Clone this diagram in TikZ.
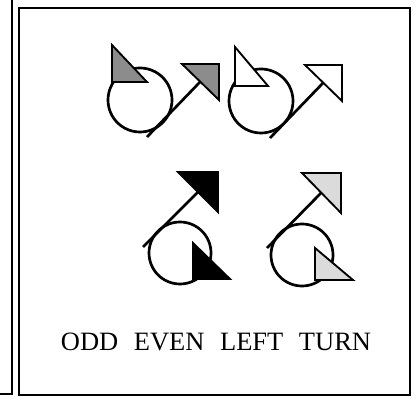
\documentclass[tikz,border=0pt]{standalone}
\usepackage{fontspec}
\setmainfont{Liberation Serif}
\colorlet{midgrey}{black!45}
\colorlet{palegrey}{black!14}
\tikzset{
  ringline/.style={line width=2.3pt},
  tiptri/.style={line width=1.6pt, line join=miter},
  frameline/.style={line width=2pt}
}
\begin{document}
\begin{tikzpicture}[x=0.03cm,y=-0.03cm]
\useasboundingbox (0,0) rectangle (420,399);
% frames
\draw[frameline] (12,0) -- (12,394) -- (0,394);
\draw[frameline] (19,8) rectangle (410,395);
% odd
\draw[ringline] (140,100) circle (32);
\draw[ringline] (147,137) -- (200,82);
\filldraw[tiptri, fill=midgrey] (182,64) -- (219,64) -- (219,100) -- cycle;
\filldraw[tiptri, fill=midgrey] (112,45) -- (112,82) -- (147,82) -- cycle;
% even
\draw[ringline] (261,101) circle (32);
\draw[ringline] (270,138) -- (323,83);
\filldraw[tiptri, fill=white] (305,65) -- (342,65) -- (342,101) -- cycle;
\filldraw[tiptri, fill=white] (235,47) -- (235,86) -- (268,86) -- cycle;
% left
\draw[ringline] (180,253) circle (31);
\draw[ringline] (143,247) -- (198,192);
\filldraw[tiptri, fill=black] (178,172) -- (218,172) -- (218,212) -- cycle;
\filldraw[tiptri, fill=black] (193,243) -- (193,279) -- (230,279) -- cycle;
% turn
\draw[ringline] (302,255) circle (31);
\draw[ringline] (267,248) -- (321,193);
\filldraw[tiptri, fill=palegrey] (302,173) -- (341,173) -- (341,213) -- cycle;
\filldraw[tiptri, fill=palegrey] (315,248) -- (315,280) -- (353,280) -- cycle;
\node[anchor=base, inner sep=0pt] (caption) at (216,350)
  {\fontsize{22.6}{27}\selectfont\spaceskip=0.59em ODD EVEN LEFT TURN};
\end{tikzpicture}
\end{document}
